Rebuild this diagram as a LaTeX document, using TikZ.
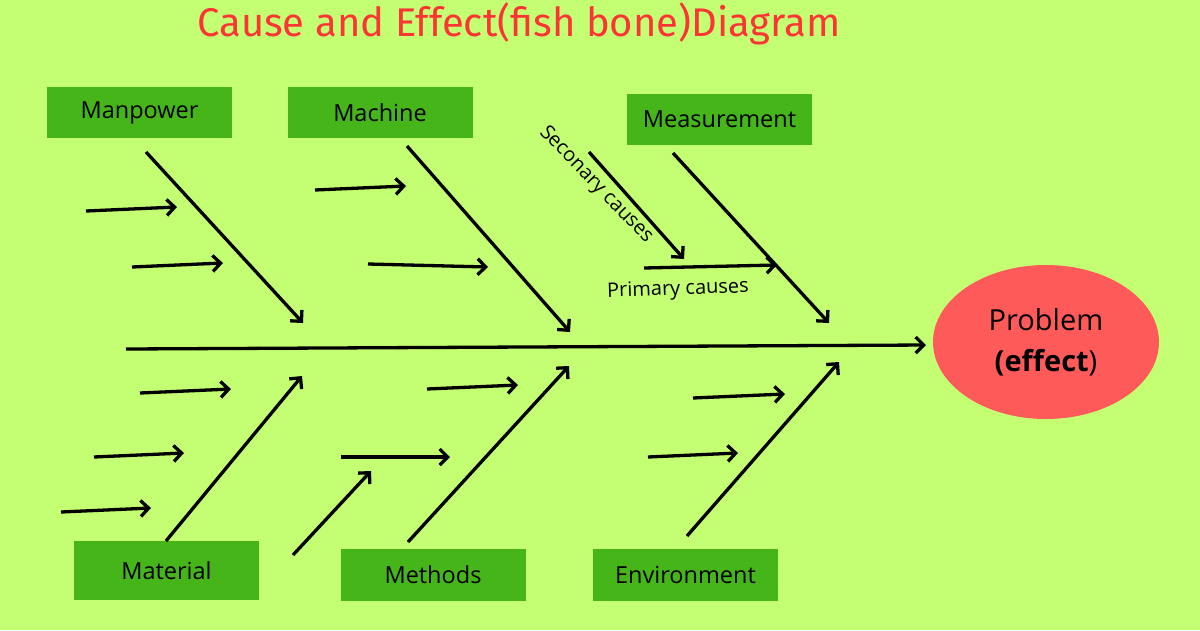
\documentclass[tikz,border=0pt]{standalone}
\usepackage{fontspec}
\setmainfont{Open Sans}
\newfontfamily\titlefont{Fira Sans}
\usetikzlibrary{arrows.meta,shapes.geometric}
\definecolor{bg}{RGB}{196,255,115}
\definecolor{boxgreen}{RGB}{69,181,26}
\definecolor{probred}{RGB}{255,90,90}
\definecolor{titlered}{RGB}{252,52,52}
\begin{document}
\begin{tikzpicture}[x=1pt,y=-1pt,
  catbox/.style={fill=boxgreen,minimum width=185pt,minimum height=51pt,inner sep=0pt,font=\fontsize{23.5}{26}\selectfont},
  bone/.style={line width=3.3pt,-{Straight Barb[length=8pt,width=16pt,line width=3.3pt]}},
  note/.style={font=\fontsize{20}{23}\selectfont}]
\fill[bg] (0,0) rectangle (1200,630);
\useasboundingbox (0,0) rectangle (1200,630);
\node[text=titlered,font=\titlefont\fontsize{40}{46}\selectfont] (title) at (519,24) {Cause and Effect(fish bone)Diagram};
% category boxes
\node[catbox] (manpower) at (139.5,112.5) {Manpower};
\node[catbox] (machine) at (380,112.5) {Machine};
\node[catbox] (measure) at (719.5,119.5) {Measurement};
\node[catbox,minimum height=59pt] (material) at (166.5,570.5) {Material};
\node[catbox,minimum height=52pt] (methods) at (433,575) {Methods};
\node[catbox,minimum height=52pt] (environ) at (685.5,575) {Environment};
% problem
\node[ellipse,fill=probred,minimum width=226pt,minimum height=154pt,inner sep=0pt,align=center,font=\fontsize{29}{42}\selectfont] (problem) at (1046,342) {Problem\\[-1pt]\textbf{(effect})};
% coordinates
\coordinate (s0) at (126,349);
\coordinate (s1) at (926,345);
\coordinate (a0) at (146,152); \coordinate (a1) at (303,323);
\coordinate (b0) at (407,146); \coordinate (b1) at (570,332);
\coordinate (c0) at (673,153); \coordinate (c1) at (829,323);
\coordinate (d0) at (166,541); \coordinate (d1) at (302,376);
\coordinate (e0) at (408,542); \coordinate (e1) at (569,366);
\coordinate (f0) at (687,536); \coordinate (f1) at (839,362);
\draw[bone] (s0) -- (s1);
\draw[bone] (a0) -- (a1);
\draw[bone] (b0) -- (b1);
\draw[bone] (c0) -- (c1);
\draw[bone] (d0) -- (d1);
\draw[bone] (e0) -- (e1);
\draw[bone] (f0) -- (f1);
% small cause arrows
\coordinate (p1a) at (86,211); \coordinate (p1b) at (177,207);
\coordinate (p2a) at (132,267); \coordinate (p2b) at (223,263);
\coordinate (p3a) at (315,190); \coordinate (p3b) at (406,186);
\coordinate (p4a) at (368,264); \coordinate (p4b) at (488,267);
\coordinate (p5a) at (589,152); \coordinate (p5b) at (684,259);
\coordinate (p6a) at (644,268); \coordinate (p6b) at (777,265);
\coordinate (p7a) at (140,393); \coordinate (p7b) at (231,389);
\coordinate (p8a) at (94,457); \coordinate (p8b) at (184,453);
\coordinate (p9a) at (61,512); \coordinate (p9b) at (151,508);
\coordinate (q1a) at (293,555); \coordinate (q1b) at (371,471);
\coordinate (q2a) at (341,457); \coordinate (q2b) at (450,457);
\coordinate (q3a) at (427,389); \coordinate (q3b) at (518,385);
\coordinate (q4a) at (693,398); \coordinate (q4b) at (785,394);
\coordinate (q5a) at (648,457); \coordinate (q5b) at (738,453);
\foreach \u in {p1,p2,p3,p4,p5,p6,p7,p8,p9,q1,q2,q3,q4,q5}
  \draw[bone] (\u a) -- (\u b);
% labels
\node[note,rotate=-46] (seclabel) at (596,185) {Seconary causes};
\node[note,rotate=2] (primlabel) at (678,290) {Primary causes};
\end{tikzpicture}
\end{document}
